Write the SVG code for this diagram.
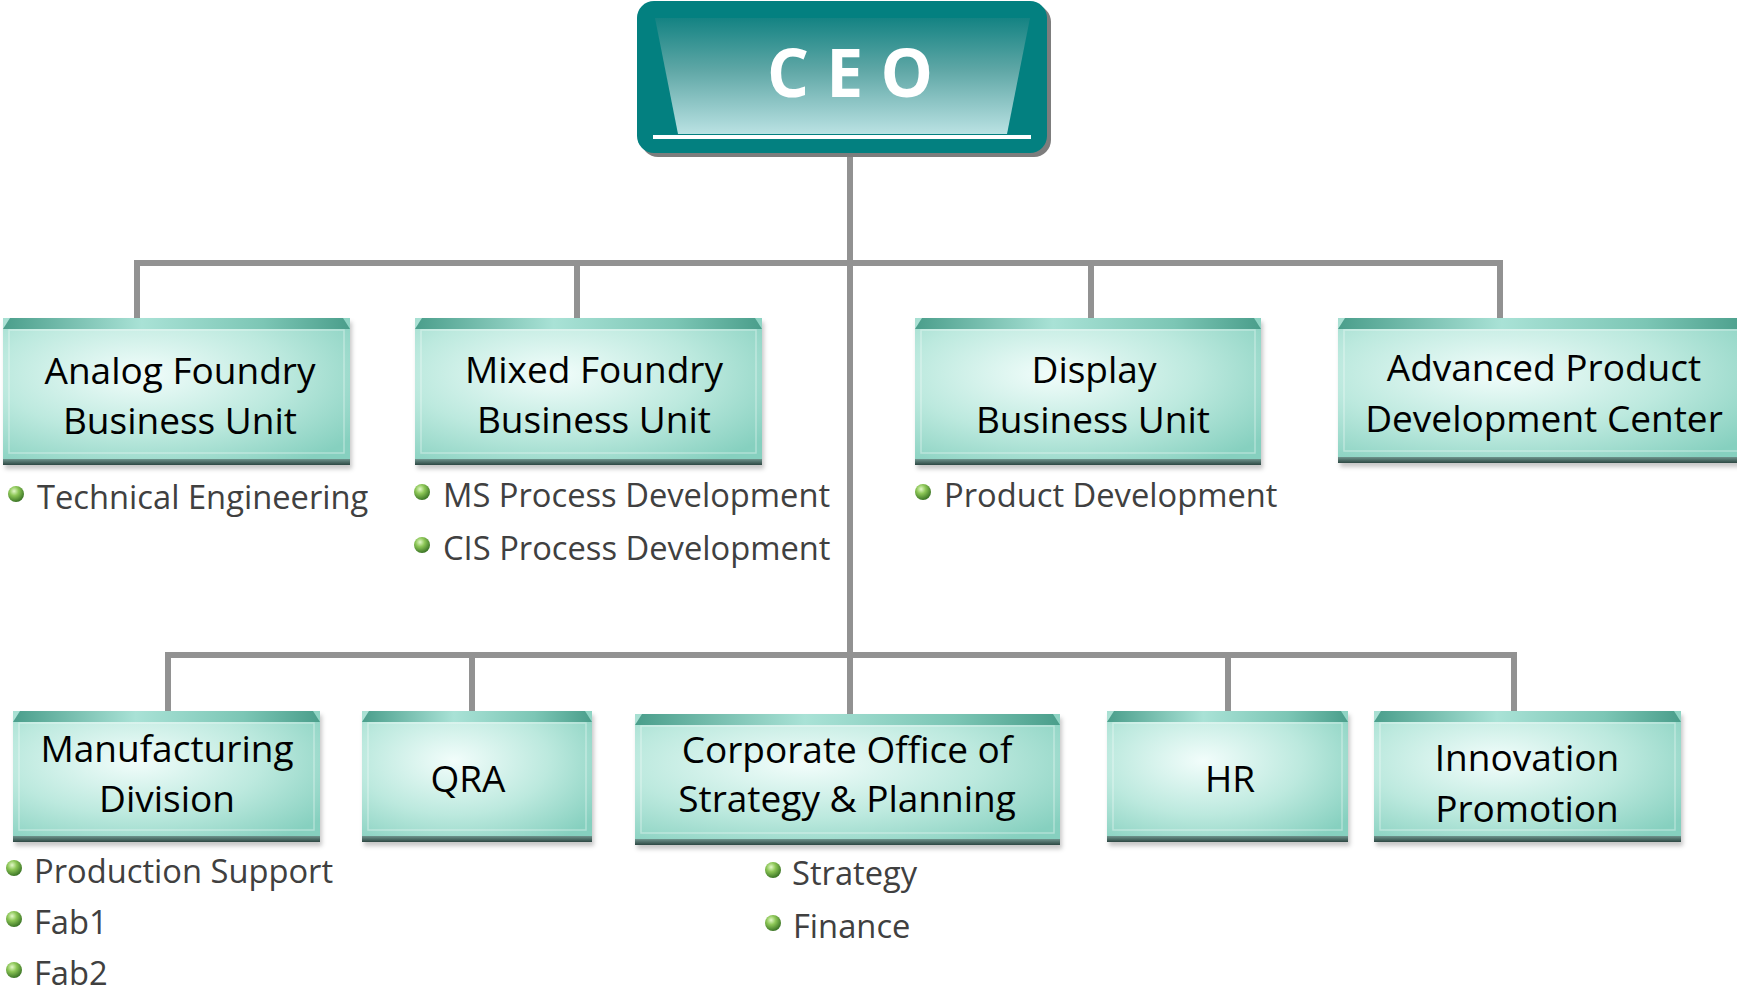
<svg xmlns="http://www.w3.org/2000/svg" width="1737" height="995" viewBox="0 0 1737 995">
<defs>
<style>
.lbl{font-family:"Open Sans","Noto Sans","Liberation Sans",sans-serif;font-size:37px;fill:#000;text-anchor:middle}
.sub{font-family:"Open Sans","Noto Sans","Liberation Sans",sans-serif;font-size:32.7px;fill:#404040}
.ceo{font-family:"Open Sans","Noto Sans","Liberation Sans",sans-serif;font-size:66px;font-weight:bold;fill:#fff;text-anchor:middle}
.conn{stroke:#929292;stroke-width:6;fill:none}
.body{fill:url(#bodyG)}
.top{fill:url(#topG)}
.bot{fill:url(#botG)}
.inner{fill:none;stroke:#ffffff;stroke-opacity:0.35;stroke-width:1.5}
.shd{fill:#000;fill-opacity:0.22;filter:url(#blur)}
.bul{fill:url(#bulG)}
</style>
<radialGradient id="bodyG" cx="0.4" cy="0.38" r="0.75">
<stop offset="0" stop-color="#f2fdfb"/>
<stop offset="0.55" stop-color="#bce9de"/>
<stop offset="1" stop-color="#86d0bf"/>
</radialGradient>
<linearGradient id="topG" x1="0" y1="0" x2="1" y2="0">
<stop offset="0" stop-color="#4a9e8b"/>
<stop offset="0.4" stop-color="#a9e2d6"/>
<stop offset="0.75" stop-color="#7cc6b5"/>
<stop offset="1" stop-color="#4a9e8b"/>
</linearGradient>
<linearGradient id="botG" x1="0" y1="0" x2="0" y2="1">
<stop offset="0" stop-color="#6f948d"/>
<stop offset="1" stop-color="#2d4843"/>
</linearGradient>
<linearGradient id="trapG" x1="0" y1="0" x2="0" y2="1">
<stop offset="0" stop-color="#148383"/>
<stop offset="0.45" stop-color="#5fa7a6"/>
<stop offset="1" stop-color="#bae2e3"/>
</linearGradient>
<radialGradient id="bulG" cx="0.38" cy="0.32" r="0.72">
<stop offset="0" stop-color="#e2f8c8"/>
<stop offset="0.4" stop-color="#8cc656"/>
<stop offset="1" stop-color="#356f22"/>
</radialGradient>
<filter id="blur" x="-5%" y="-5%" width="110%" height="120%"><feGaussianBlur stdDeviation="2"/></filter>
</defs>
<rect x="0" y="0" width="1737" height="995" fill="#ffffff"/>

<g id="connectors">
<path class="conn" d="M850 150 V714"/>
<path class="conn" d="M137 318 V263 H1500 V318"/>
<path class="conn" d="M577 263 V318"/>
<path class="conn" d="M1091 263 V318"/>
<path class="conn" d="M168 711 V655 H1514 V711"/>
<path class="conn" d="M472 655 V711"/>
<path class="conn" d="M1228 655 V711"/>
</g>

<g id="ceo">
<rect x="641" y="5" width="410" height="152" rx="17" fill="#7d7d7d"/>
<rect x="637" y="1" width="410" height="152" rx="17" fill="#038080"/>
<polygon points="655,18 1030,18 1007,134 678,134" fill="url(#trapG)"/>
<rect x="653" y="135" width="378" height="4" fill="#ffffff"/>
<text class="ceo" x="850" y="97">C E O</text>
</g>

<g id="analog">
<rect class="shd" x="5" y="322" width="347" height="147"/>
<rect class="body" x="3" y="318" width="347" height="147"/>
<rect class="inner" x="9" y="330" width="335" height="123"/>
<path class="top" d="M3 329 L10 318 H343 L350 329 Z"/>
<rect class="bot" x="3" y="459" width="347" height="6"/>
<text class="lbl" x="180" y="384">Analog Foundry</text>
<text class="lbl" x="180" y="434">Business Unit</text>
<circle class="bul" cx="16" cy="494" r="8"/>
<text class="sub" x="37" y="509">Technical Engineering</text>
</g>

<g id="mixed">
<rect class="shd" x="417" y="322" width="347" height="147"/>
<rect class="body" x="415" y="318" width="347" height="147"/>
<rect class="inner" x="421" y="330" width="335" height="123"/>
<path class="top" d="M415 329 L422 318 H755 L762 329 Z"/>
<rect class="bot" x="415" y="459" width="347" height="6"/>
<text class="lbl" x="594" y="383">Mixed Foundry</text>
<text class="lbl" x="594" y="433">Business Unit</text>
<circle class="bul" cx="422" cy="492" r="8"/>
<text class="sub" x="443" y="507">MS Process Development</text>
<circle class="bul" cx="422" cy="545" r="8"/>
<text class="sub" x="443" y="560">CIS Process Development</text>
</g>

<g id="display">
<rect class="shd" x="917" y="322" width="346" height="147"/>
<rect class="body" x="915" y="318" width="346" height="147"/>
<rect class="inner" x="921" y="330" width="334" height="123"/>
<path class="top" d="M915 329 L922 318 H1254 L1261 329 Z"/>
<rect class="bot" x="915" y="459" width="346" height="6"/>
<text class="lbl" x="1094" y="383">Display</text>
<text class="lbl" x="1093" y="433">Business Unit</text>
<circle class="bul" cx="923" cy="492" r="8"/>
<text class="sub" x="944" y="507">Product Development</text>
</g>

<g id="advanced">
<rect class="shd" x="1340" y="322" width="410" height="145"/>
<rect class="body" x="1338" y="318" width="410" height="145"/>
<rect class="inner" x="1344" y="330" width="398" height="121"/>
<path class="top" d="M1338 329 L1345 318 H1741 L1748 329 Z"/>
<rect class="bot" x="1338" y="457" width="410" height="6"/>
<text class="lbl" x="1544" y="381">Advanced Product</text>
<text class="lbl" x="1544" y="432">Development Center</text>
</g>

<g id="manufacturing">
<rect class="shd" x="15" y="715" width="307" height="131"/>
<rect class="body" x="13" y="711" width="307" height="131"/>
<rect class="inner" x="19" y="723" width="295" height="107"/>
<path class="top" d="M13 722 L20 711 H313 L320 722 Z"/>
<rect class="bot" x="13" y="836" width="307" height="6"/>
<text class="lbl" x="167" y="762">Manufacturing</text>
<text class="lbl" x="167" y="812">Division</text>
<circle class="bul" cx="14" cy="868" r="8"/>
<text class="sub" x="34" y="883">Production Support</text>
<circle class="bul" cx="14" cy="919" r="8"/>
<text class="sub" x="34" y="934">Fab1</text>
<circle class="bul" cx="14" cy="970" r="8"/>
<text class="sub" x="34" y="985">Fab2</text>
</g>

<g id="qra">
<rect class="shd" x="364" y="715" width="230" height="131"/>
<rect class="body" x="362" y="711" width="230" height="131"/>
<rect class="inner" x="368" y="723" width="218" height="107"/>
<path class="top" d="M362 722 L369 711 H585 L592 722 Z"/>
<rect class="bot" x="362" y="836" width="230" height="6"/>
<text class="lbl" x="468" y="792">QRA</text>
</g>

<g id="corporate">
<rect class="shd" x="637" y="718" width="425" height="131"/>
<rect class="body" x="635" y="714" width="425" height="131"/>
<rect class="inner" x="641" y="726" width="413" height="107"/>
<path class="top" d="M635 725 L642 714 H1053 L1060 725 Z"/>
<rect class="bot" x="635" y="839" width="425" height="6"/>
<text class="lbl" x="847" y="763">Corporate Office of</text>
<text class="lbl" x="847" y="812">Strategy &amp; Planning</text>
<circle class="bul" cx="773" cy="870" r="8"/>
<text class="sub" x="792" y="885">Strategy</text>
<circle class="bul" cx="773" cy="923" r="8"/>
<text class="sub" x="793" y="938">Finance</text>
</g>

<g id="hr">
<rect class="shd" x="1109" y="715" width="241" height="131"/>
<rect class="body" x="1107" y="711" width="241" height="131"/>
<rect class="inner" x="1113" y="723" width="229" height="107"/>
<path class="top" d="M1107 722 L1114 711 H1341 L1348 722 Z"/>
<rect class="bot" x="1107" y="836" width="241" height="6"/>
<text class="lbl" x="1230" y="792">HR</text>
</g>

<g id="innovation">
<rect class="shd" x="1376" y="715" width="307" height="131"/>
<rect class="body" x="1374" y="711" width="307" height="131"/>
<rect class="inner" x="1380" y="723" width="295" height="107"/>
<path class="top" d="M1374 722 L1381 711 H1674 L1681 722 Z"/>
<rect class="bot" x="1374" y="836" width="307" height="6"/>
<text class="lbl" x="1527" y="771">Innovation</text>
<text class="lbl" x="1527" y="822">Promotion</text>
</g>
</svg>
